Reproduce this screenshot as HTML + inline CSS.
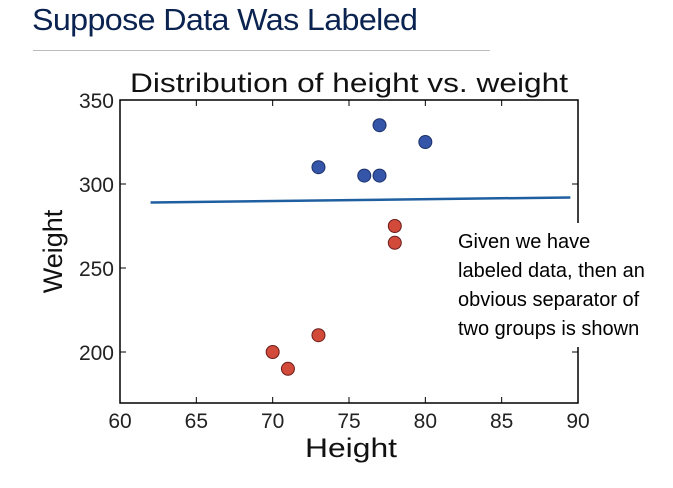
<!DOCTYPE html>
<html><head><meta charset="utf-8"><style>
body{margin:0;background:#fff;width:673px;height:488px;overflow:hidden;position:relative;font-family:"Liberation Sans",sans-serif}
#title{position:absolute;left:32px;top:2px;font-size:31px;line-height:36px;color:#0b2350;letter-spacing:-0.6px;transform:scaleX(1.04);transform-origin:left;white-space:nowrap}
#rule{position:absolute;left:33px;top:50px;width:457px;height:1px;background:#bbb}
#note{position:absolute;left:450px;top:223px;width:220px;height:124px;background:#fff;font-size:20px;line-height:29px;color:#000;padding-left:8px;box-sizing:border-box;padding-top:5px;white-space:nowrap}
</style></head><body>
<div id="title">Suppose Data Was Labeled</div>
<div id="rule"></div>
<svg id="chart" width="673" height="488" style="position:absolute;left:0;top:0"></svg>
<div id="note">Given we have<br>labeled data, then an<br>obvious separator of<br>two groups is shown</div>
<script>
const xTicks=[60,65,70,75,80,85,90];
const yTicks=[200,250,300,350];
const blueX=[73,76,77,77,80];
const blueY=[310,305,305,335,325];
const redX=[70,71,73,78,78];
const redY=[200,190,210,275,265];
const lineX=[62,89.5];
const lineY=[289,292];
const L=120,R=578,T=100,B=403;
const sx=v=>L+(v-60)/30*(R-L);
const sy=v=>T+(350-v)/50*84;
const svg=document.getElementById('chart');
const NS='http://www.w3.org/2000/svg';
function mk(t,a){const e=document.createElementNS(NS,t);for(const k in a)e.setAttribute(k,a[k]);svg.appendChild(e);return e;}
let t=mk('text',{x:130,y:92,'font-size':27,fill:'#111',textLength:438,lengthAdjust:'spacingAndGlyphs'});t.textContent='Distribution of height vs. weight';


let fr=mk('rect',{x:L,y:T,width:R-L,height:B-T,fill:'none',stroke:'#000','stroke-width':1.5});


xTicks.forEach(v=>{const x=sx(v);
mk('line',{x1:x,x2:x,y1:B,y2:B-6,stroke:'#000'});mk('line',{x1:x,x2:x,y1:T,y2:T+6,stroke:'#000'});
const e=mk('text',{x:x,y:B+25,'text-anchor':'middle','font-size':21,fill:'#222'});e.textContent=v;

});
yTicks.forEach(v=>{const y=sy(v);
mk('line',{x1:L,x2:L+6,y1:y,y2:y,stroke:'#000'});mk('line',{x1:R,x2:R-6,y1:y,y2:y,stroke:'#000'});
const e=mk('text',{x:L-6,y:y+8,'text-anchor':'end','font-size':21,fill:'#222'});e.textContent=v;

});
let xl=mk('text',{x:305,y:457,'font-size':27,fill:'#111',textLength:92,lengthAdjust:'spacingAndGlyphs'});xl.textContent='Height';


let yl=mk('text',{x:0,y:0,'text-anchor':'middle','font-size':27,fill:'#111',transform:'translate(62,'+((T+B)/2)+') rotate(-90)'});yl.textContent='Weight';


let ln=mk('line',{x1:sx(lineX[0]),y1:sy(lineY[0]),x2:sx(lineX[1]),y2:sy(lineY[1]),stroke:'#1f5fa0','stroke-width':2.5});


blueX.forEach((v,i)=>{const c=mk('circle',{cx:sx(v),cy:sy(blueY[i]),r:6.5,fill:'#3556a8',stroke:'#1c2f6a','stroke-width':1});

});
redX.forEach((v,i)=>{const c=mk('circle',{cx:sx(v),cy:sy(redY[i]),r:6.5,fill:'#d24a3a',stroke:'#6a1c1c','stroke-width':1});

});
</script>
</body></html>
